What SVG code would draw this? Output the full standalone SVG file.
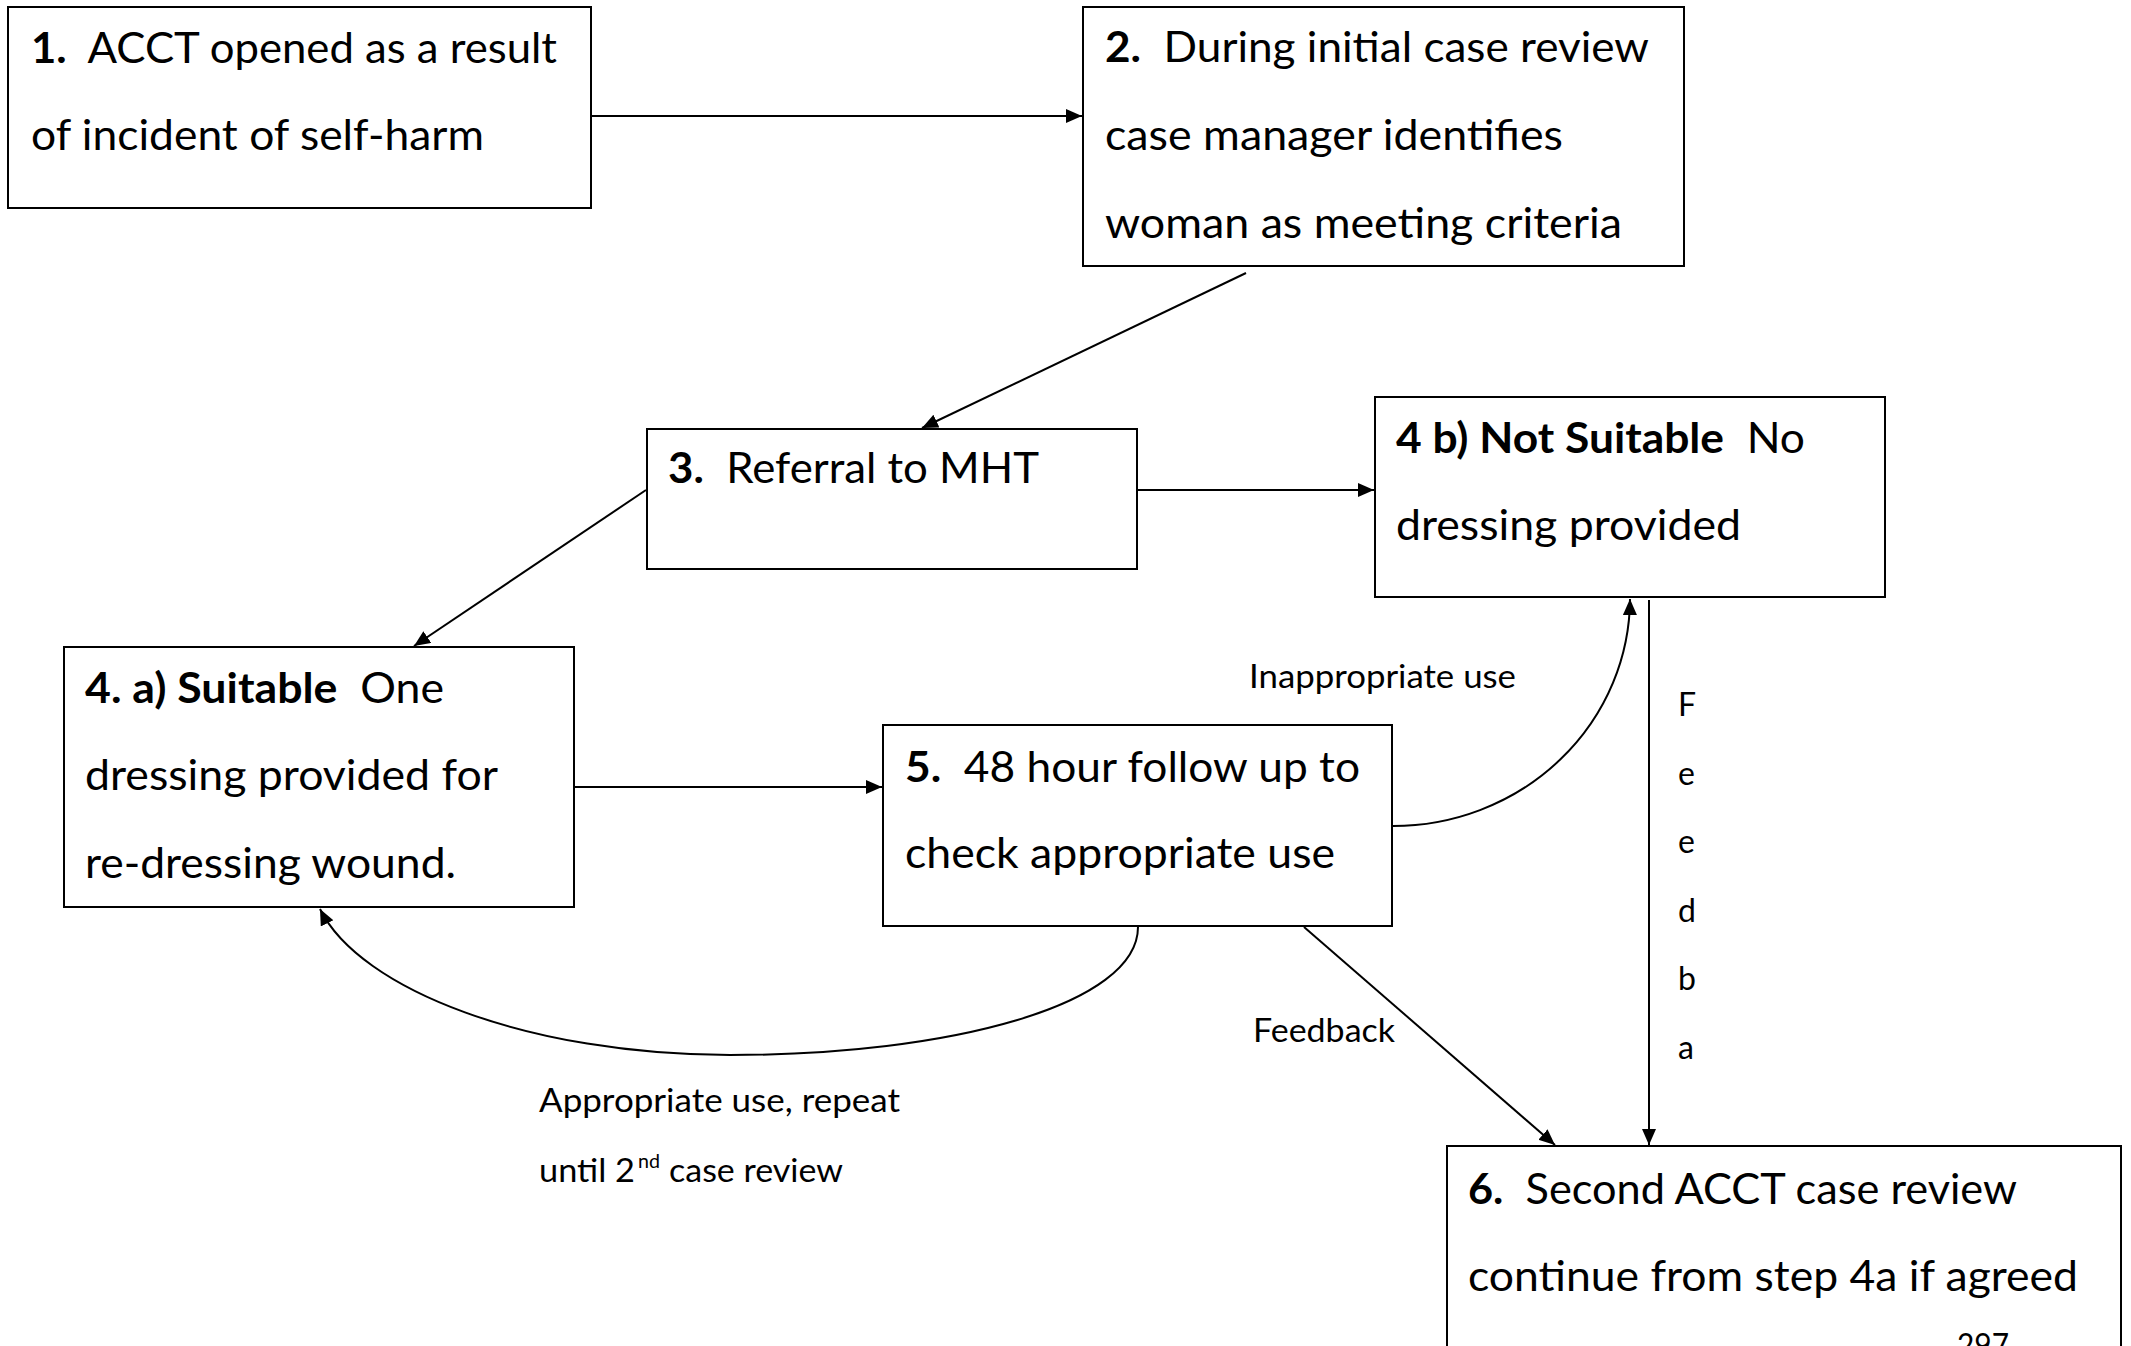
<svg xmlns="http://www.w3.org/2000/svg" width="2131" height="1346" viewBox="0 0 2131 1346">
<style>
.box{fill:#fff;stroke:#000;stroke-width:2}
.t{font-family:Lato,"Open Sans","Liberation Sans",sans-serif;font-size:42px;fill:#000;white-space:pre}
.b{font-weight:bold}
.lbl{font-family:Lato,"Open Sans","Liberation Sans",sans-serif;font-size:32px;fill:#000;white-space:pre}
.c{fill:none;stroke:#000;stroke-width:2}
</style>
<defs>
<marker id="ah" markerUnits="userSpaceOnUse" markerWidth="18" markerHeight="16" refX="16" refY="7" orient="auto">
<path d="M0,0 L16,7 L0,14 z" fill="#000"/>
</marker>
</defs>
<rect width="2131" height="1346" fill="#fff"/>

<g id="connectors">
<line class="c" x1="592" y1="116" x2="1082" y2="116" marker-end="url(#ah)"/>
<line class="c" x1="1246" y1="273" x2="922" y2="428" marker-end="url(#ah)"/>
<line class="c" x1="1138" y1="490" x2="1374" y2="490" marker-end="url(#ah)"/>
<line class="c" x1="646" y1="490" x2="414" y2="646" marker-end="url(#ah)"/>
<line class="c" x1="574" y1="787" x2="882" y2="787" marker-end="url(#ah)"/>
<path class="c" d="M1393,826 A237,228 0 0 0 1630,599" marker-end="url(#ah)"/>
<line class="c" x1="1649" y1="600" x2="1649" y2="1145" marker-end="url(#ah)"/>
<line class="c" x1="1304" y1="927" x2="1555" y2="1145" marker-end="url(#ah)"/>
<path class="c" d="M1138,927 C1138,1005 950,1055 730,1055 C530,1055 360,990 320,909" marker-end="url(#ah)"/>
</g>

<g id="node1">
<rect class="box" x="8" y="7" width="583" height="201"/>
<text class="t" x="31" y="63" textLength="526" lengthAdjust="spacingAndGlyphs"><tspan class="b">1.</tspan>  ACCT opened as a result</text>
<text class="t" x="31" y="150" textLength="453" lengthAdjust="spacingAndGlyphs">of incident of self-harm</text>
</g>

<g id="node2">
<rect class="box" x="1083" y="7" width="601" height="259"/>
<text class="t" x="1105" y="62" textLength="544" lengthAdjust="spacingAndGlyphs"><tspan class="b">2.</tspan>  During initial case review</text>
<text class="t" x="1105" y="150" textLength="458" lengthAdjust="spacingAndGlyphs">case manager identifies</text>
<text class="t" x="1105" y="238" textLength="517" lengthAdjust="spacingAndGlyphs">woman as meeting criteria</text>
</g>

<g id="node3">
<rect class="box" x="647" y="429" width="490" height="140"/>
<text class="t" x="668" y="483" textLength="371" lengthAdjust="spacingAndGlyphs"><tspan class="b">3.</tspan>  Referral to MHT</text>
</g>

<g id="node4b">
<rect class="box" x="1375" y="397" width="510" height="200"/>
<text class="t" x="1396" y="453" textLength="409" lengthAdjust="spacingAndGlyphs"><tspan class="b">4 b) Not Suitable</tspan>  No</text>
<text class="t" x="1396" y="540" textLength="345" lengthAdjust="spacingAndGlyphs">dressing provided</text>
</g>

<g id="node4a">
<rect class="box" x="64" y="647" width="510" height="260"/>
<text class="t" x="85" y="703" textLength="359" lengthAdjust="spacingAndGlyphs"><tspan class="b">4. a) Suitable</tspan>  One</text>
<text class="t" x="85" y="790" textLength="413" lengthAdjust="spacingAndGlyphs">dressing provided for</text>
<text class="t" x="85" y="878" textLength="371" lengthAdjust="spacingAndGlyphs">re-dressing wound.</text>
</g>

<g id="node5">
<rect class="box" x="883" y="725" width="509" height="201"/>
<text class="t" x="905" y="782" textLength="455" lengthAdjust="spacingAndGlyphs"><tspan class="b">5.</tspan>  48 hour follow up to</text>
<text class="t" x="905" y="868" textLength="430" lengthAdjust="spacingAndGlyphs">check appropriate use</text>
</g>

<g id="node6">
<rect class="box" x="1447" y="1146" width="674" height="220"/>
<text class="t" x="1468" y="1204" textLength="549" lengthAdjust="spacingAndGlyphs"><tspan class="b">6.</tspan>  Second ACCT case review</text>
<text class="t" x="1468" y="1291" textLength="610" lengthAdjust="spacingAndGlyphs">continue from step 4a if agreed</text>
<text class="lbl" x="1957" y="1357" textLength="52" lengthAdjust="spacingAndGlyphs">297</text>
</g>

<g id="labels">
<text class="lbl" x="1249" y="688" textLength="267" lengthAdjust="spacingAndGlyphs">Inappropriate use</text>
<text class="lbl" x="1253" y="1042" textLength="142" lengthAdjust="spacingAndGlyphs">Feedback</text>
<text class="lbl" x="539" y="1112" textLength="361" lengthAdjust="spacingAndGlyphs">Appropriate use, repeat</text>
<text class="lbl" x="539" y="1182" textLength="96" lengthAdjust="spacingAndGlyphs">until 2</text>
<text class="lbl" x="638" y="1168" style="font-size:20px" textLength="22" lengthAdjust="spacingAndGlyphs">nd</text>
<text class="lbl" x="669" y="1182" textLength="174" lengthAdjust="spacingAndGlyphs">case review</text>
<text class="lbl"><tspan x="1678" y="716">F</tspan><tspan x="1678" y="785">e</tspan><tspan x="1678" y="853">e</tspan><tspan x="1678" y="922">d</tspan><tspan x="1678" y="990">b</tspan><tspan x="1678" y="1059">a</tspan></text>
</g>
</svg>
